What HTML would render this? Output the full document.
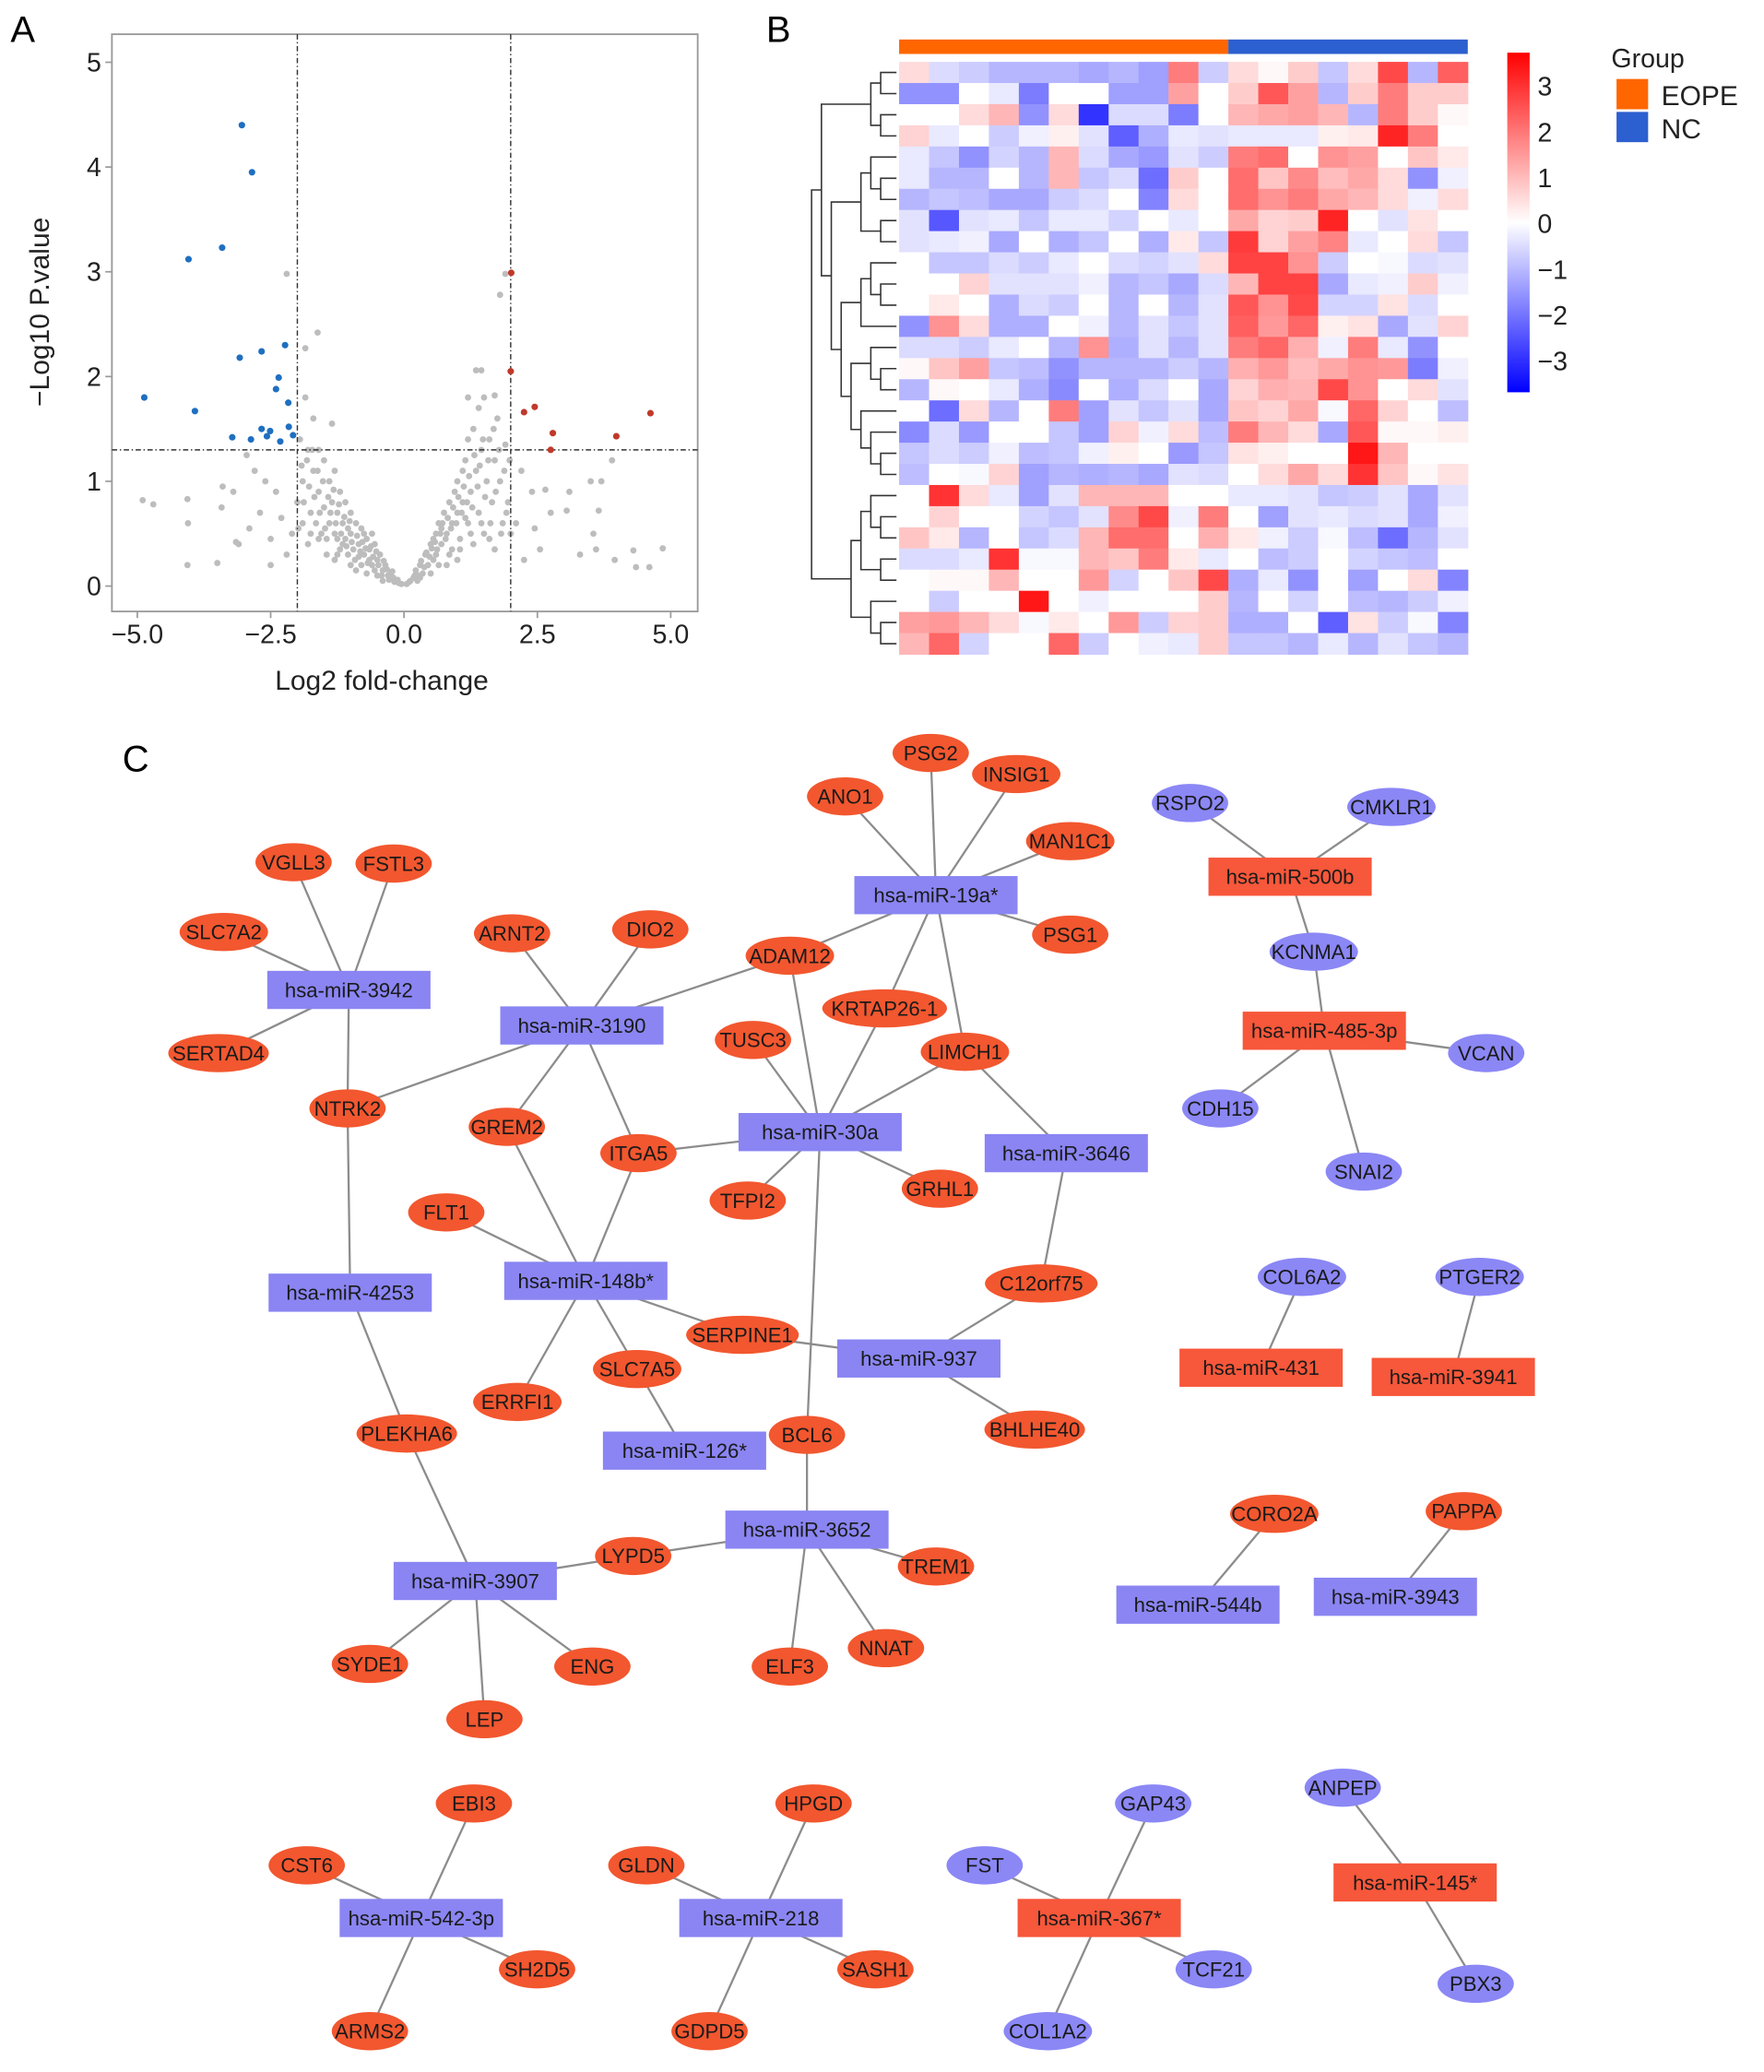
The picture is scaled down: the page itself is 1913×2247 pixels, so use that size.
<!DOCTYPE html>
<html><head><meta charset="utf-8"><style>
html,body{margin:0;padding:0;background:#fff}
svg{display:block;font-family:"Liberation Sans",Arial,sans-serif}
</style></head><body>
<svg id="fig" xmlns="http://www.w3.org/2000/svg" width="1913" height="2247" viewBox="0 0 1340 1574">
<rect x="0" y="0" width="1340" height="1574" fill="#fff"/>
<text x="8" y="32" font-size="28">A</text>
<text x="582" y="32" font-size="28">B</text>
<text x="93" y="586" font-size="28">C</text>
<g id="volcano"></g>
<g id="heat"></g>
<g id="net"></g>
</svg>
<script>
// ---------- Volcano data ----------
const xTicks = [-5, -2.5, 0, 2.5, 5];
const xTickLabels = ["\u22125.0", "\u22122.5", "0.0", "2.5", "5.0"];
const yTicks = [0, 1, 2, 3, 4, 5];
const fcCut = 2;
const pCut = 1.3;
const downPts = [[-3.04,4.40],[-2.85,3.95],[-3.41,3.23],[-4.04,3.12],[-2.67,2.24],[-2.23,2.30],[-3.08,2.18],[-2.35,1.99],[-2.40,1.88],[-4.87,1.80],[-2.17,1.75],[-3.92,1.67],[-2.67,1.50],[-2.51,1.48],[-2.16,1.52],[-2.57,1.43],[-2.08,1.44],[-3.22,1.42],[-2.87,1.40],[-2.32,1.38]];
const upPts = [[2.01,2.99],[2.0,2.05],[2.25,1.66],[2.45,1.71],[2.79,1.46],[2.75,1.30],[3.98,1.43],[4.62,1.65]];
const grayPts = [[-0.1,0.03],[-0.2,0.08],[-0.3,0.1],[-0.35,0.2],[-0.4,0.15],[-0.45,0.3],[-0.5,0.25],[-0.55,0.4],[-0.6,0.2],[-0.6,0.5],[-0.65,0.35],[-0.7,0.45],[-0.75,0.3],[-0.8,0.55],[-0.8,0.2],[-0.85,0.4],[-0.9,0.6],[-0.95,0.35],[-1.0,0.7],[-1.0,0.5],[-1.05,0.3],[-1.1,0.8],[-1.1,0.45],[-1.15,0.6],[-1.2,0.9],[-1.2,0.35],[-1.25,0.7],[-1.3,1.1],[-1.3,0.5],[-1.35,0.8],[-1.4,1.0],[-1.4,0.6],[-1.45,0.3],[-1.5,1.2],[-1.5,0.75],[-1.55,0.5],[-1.6,1.3],[-1.6,0.9],[-1.65,0.6],[-1.7,1.6],[-1.7,1.1],[-1.75,0.7],[-1.8,1.3],[-1.8,0.4],[-1.85,1.8],[-1.9,1.0],[-1.9,0.6],[-1.95,1.4],[-2.0,0.8],[-0.25,0.12],[-0.15,0.05],[-0.5,0.1],[-0.7,0.12],[-1.0,0.2],[-0.9,0.15],[-1.3,0.25],[-0.4,0.05],[-1.35,1.55],[-0.55,0.15],[-0.65,0.25],[-0.75,0.5],[-0.85,0.28],[-1.05,0.55],[-1.15,0.4],[-1.25,0.45],
[-2.1,0.5],[-2.2,0.3],[-2.3,0.65],[-2.4,0.9],[-2.5,0.45],[-2.6,1.0],[-2.7,0.7],[-2.8,1.1],[-2.9,0.55],[-2.95,1.25],[-3.1,0.4],[-3.2,0.9],[-2.2,2.98],[-1.62,2.42],[-1.85,2.27],[-2.5,0.2],
[0.1,0.04],[0.2,0.1],[0.25,0.05],[0.3,0.2],[0.35,0.12],[0.4,0.3],[0.45,0.2],[0.5,0.4],[0.55,0.25],[0.6,0.5],[0.6,0.3],[0.65,0.6],[0.7,0.4],[0.75,0.7],[0.8,0.5],[0.85,0.8],[0.85,0.3],[0.9,0.6],[0.95,0.9],[1.0,0.7],[1.0,1.0],[1.05,0.45],[1.1,1.1],[1.1,0.8],[1.15,1.2],[1.2,0.6],[1.2,1.4],[1.25,0.9],[1.3,1.5],[1.3,0.4],[1.35,1.1],[1.4,1.7],[1.4,0.7],[1.45,1.3],[1.5,1.8],[1.5,0.5],[1.55,1.0],[1.6,1.4],[1.65,0.8],[1.7,1.2],[1.7,0.35],[1.75,1.6],[1.8,1.0],[1.85,0.6],[1.9,1.35],[1.95,0.8],[2.0,0.5],[1.9,2.98],[1.8,2.78],[1.45,2.06],[1.35,2.06],[1.2,1.8],[1.7,1.82],[0.5,0.12],[0.8,0.2],[1.0,0.25],[0.3,0.08],[0.55,0.45],[0.7,0.55],[0.9,0.35],[1.15,0.65],[0.65,0.2],
[2.1,0.6],[2.25,0.25],[2.2,1.1],[2.4,0.9],[2.45,0.55],[2.55,0.35],[2.65,0.92],[2.75,0.7],[3.05,0.72],[3.1,0.9],[3.3,0.3],[3.5,1.0],[3.55,0.5],[3.6,0.35],[3.65,0.72],[3.7,1.0],[3.9,1.2],[3.95,0.25],[4.3,0.34],[4.35,0.18],[4.6,0.18],[4.85,0.36],
[-4.9,0.82],[-4.7,0.78],[-4.06,0.83],[-4.05,0.6],[-4.06,0.2],[-3.5,0.22],[-3.42,0.75],[-3.4,0.95],[-3.15,0.42]];
const grayPtsDense = [[-0.05,0.02],[-0.12,0.06],[-0.18,0.04],[-0.22,0.14],[-0.28,0.06],[-0.32,0.16],[-0.38,0.24],[-0.42,0.1],[-0.48,0.2],[-0.52,0.33],[-0.58,0.28],[-0.62,0.38],[-0.68,0.22],[-0.72,0.36],[-0.78,0.42],[-0.82,0.33],[-0.88,0.48],[-0.92,0.25],[-0.98,0.42],[-1.02,0.62],[-1.08,0.38],[-1.12,0.66],[-1.18,0.5],[-1.22,0.78],[-1.28,0.6],[-1.32,0.92],[-1.38,0.7],[-1.42,0.85],[-1.48,0.55],[-1.52,1.0],[-1.58,0.7],[-1.62,1.1],[-1.68,0.85],[-1.72,1.3],[-1.78,0.95],[-1.82,1.2],[-1.88,0.8],[-1.92,1.15],[-1.98,0.55],[-1.45,0.45],[-1.25,0.3],[-1.6,0.45],[-1.75,0.5],
[0.05,0.02],[0.12,0.05],[0.18,0.08],[0.22,0.15],[0.28,0.1],[0.32,0.24],[0.38,0.18],[0.42,0.32],[0.48,0.28],[0.52,0.36],[0.58,0.42],[0.62,0.35],[0.68,0.5],[0.72,0.6],[0.78,0.45],[0.82,0.65],[0.88,0.55],[0.92,0.75],[0.98,0.6],[1.02,0.85],[1.08,0.7],[1.12,0.95],[1.18,0.8],[1.22,1.05],[1.28,0.75],[1.32,1.25],[1.38,0.95],[1.42,1.15],[1.48,1.4],[1.52,0.85],[1.58,1.2],[1.62,0.6],[1.68,1.5],[1.72,0.9],[1.78,1.3],[1.82,0.5],[1.88,1.1],[1.92,0.7],[1.98,1.2],[1.25,0.5],[1.45,0.6],[1.6,0.45],[1.05,0.35]];

// ---------- Heatmap data ----------
const groupLabels = ["EOPE","NC"];
const groupSizes = [11, 8];
const colorTicks = [3,2,1,0,-1,-2,-3];
const colorTickLabels = ["3","2","1","0","\u22121","\u22122","\u22123"];
const heatValues = [
[0.5,-0.5,-0.7,-1,-1,-1,-1.2,-1,-1.3,1.8,-0.7,0.5,0.1,0.7,-0.8,0.5,2.5,-1,2.2],
[-1.5,-1.5,0,-0.3,-1.8,0,0,-1.3,-1.3,1.3,0,0.7,2.3,1.3,-1,0.7,1.8,0.7,0.7],
[0,0,0.5,1,-1.5,0.5,-2.8,-0.5,-0.5,-1.8,0,1,1.2,1.3,1,-1,1.8,0.7,0.1],
[0.6,-0.3,0,-0.7,-0.2,0.2,-0.4,-2.2,-1.1,-0.3,-0.4,-0.3,-0.3,-0.3,0.2,0.3,3,1.8,0],
[-0.3,-0.8,-1.5,-0.6,-1,1,-0.5,-1.2,-1.4,-0.4,-0.7,1.8,2,0,1.5,1.3,0,0.8,0.3],
[-0.3,-1,-1,0,-1,1,-0.8,-0.5,-2,0.7,0,2,0.8,1.6,0.9,1.2,0.5,-1.5,-0.2],
[-1,-0.8,-0.9,-1.2,-1.2,-0.7,-0.5,0,-1.7,0.5,0,2,1.5,1.8,1.2,1,0.5,-0.2,0.5],
[-0.4,-2.3,-0.4,-0.3,-0.8,-0.3,-0.3,-0.6,0,-0.3,0,1.2,0.6,0.7,3,0,-0.4,0.4,0],
[-0.4,-0.3,-0.2,-1.2,0,-1.1,-0.8,0,-1.1,0.3,-0.8,2.7,0.6,1.3,1.7,-0.3,0,0.5,-0.8],
[0,-0.8,-0.8,-0.5,-0.7,-0.3,0,-0.5,-0.6,-0.4,0.5,2.6,2.6,1.5,-0.7,0,-0.1,-0.5,-0.4],
[0,0,0.6,-0.4,-0.4,-0.4,-0.2,-1,-0.8,-1.2,-0.5,1,2.6,2.6,-1.2,-0.3,-0.2,0.7,-0.2],
[0,0.3,0,-1.1,-0.5,-0.7,0,-1,0,-1,-0.4,2.3,1.5,2.5,-0.6,-0.6,0.4,-0.5,0],
[-1.5,1.5,0.5,-1.1,-1.1,0,-0.2,-1,-0.4,-0.8,-0.4,2.2,1.4,2.1,0.2,0.4,-1.2,-0.4,0.6],
[-0.5,-0.5,-0.7,-0.3,0,-1,1.5,-1.1,-0.4,-1,-0.4,1.8,2.1,1.1,-0.2,1.8,-0.3,-1.5,0],
[0.1,0.8,1.3,-0.8,-0.9,-1.5,-1,-1,-1,-0.7,-1,1.1,1.4,0.9,1.2,1.5,1.4,-1.8,-0.2],
[-1,0.1,0,-0.3,-1.1,-1.6,0,-1.1,-0.5,0,-1.2,0.6,1.1,1,2.5,1.5,0,0.5,-0.4],
[0,-2,0.5,-1,0,1.8,-1.3,-0.4,-0.8,-0.4,-1.2,0.8,0.6,1.2,-0.1,2.1,0.6,0,-0.9],
[-1.6,-0.5,-1.4,0,0,-0.8,-1.3,0.6,-0.2,0.5,-0.9,1.8,1,0.5,-1.2,2.3,0.1,0.1,0.2],
[-0.8,-0.5,-0.7,-0.2,-0.9,-0.8,-0.2,0.2,0,-1.4,-0.8,0.4,0.2,0,0,3.2,1,0,0],
[-0.9,0,-0.1,0.6,-1.3,-1,-1.1,-1,-1.2,-0.4,-0.5,0,0.5,1.2,0.5,2.8,0.8,0.1,0.4],
[0,2.8,0.5,-0.3,-1.3,-0.4,1,1,1,0,0,-0.3,-0.3,-0.4,-0.8,-0.7,-0.4,-1.2,-0.4],
[0,0.6,0,0,-0.6,-0.8,-0.4,1.6,2.5,-0.2,1.8,0,-1.3,-0.4,-0.3,-0.5,-0.4,-1.2,-0.2],
[0.8,0.3,-1,0,-0.8,-0.5,1,2,2,0,1.1,0.3,-0.2,-0.7,-0.1,-0.9,-2,-1,-0.4],
[-0.5,-0.5,-0.3,2.8,-0.1,-0.1,1,0.8,1.8,0.3,-0.3,0,-0.9,-0.7,0,-0.6,-0.8,-0.9,0],
[0,0.1,0.1,1,0,0,1.4,-0.6,0,0.8,2.5,-1.1,-0.3,-1.5,0,-1.3,0,0.5,-1.7],
[0,-0.7,0,0,3.2,0,-0.2,0,0,0,0.7,-1,0,-0.6,0,-0.9,-1,-0.7,-0.2],
[1.3,1.4,1,0.5,-0.1,0.3,0,1.4,-0.7,0.6,0.7,-1.1,-1.1,0,-2.2,0.4,-0.7,-0.1,-1.7],
[1,2.1,-0.6,0,0,2.1,-0.7,0,-0.2,-0.3,0.7,-0.8,-0.8,-1,-0.3,-1,-0.4,-0.8,-1]];
const dendroTree = [[[[0,1],[2,3]],[[[4,[5,6]],[7,8]],[[[9,[10,11]],12],[[13,[14,15]],[16,[17,[18,19]]]]]]],[[[20,[21,22]],[23,24]],[25,[26,27]]]];

// ---------- Network data ----------
const netNodes = [
["PSG2","r",707,572],["INSIG1","r",772,588],["ANO1","r",642,605],["MAN1C1","r",813,639],["hsa-miR-19a*","B",711,680],["PSG1","r",813,710],
["ADAM12","r",600,726],["KRTAP26-1","r",672,766],["LIMCH1","r",733,799],["TUSC3","r",572,790],["hsa-miR-30a","B",623,860],["hsa-miR-3646","B",810,876],
["ITGA5","r",485,876],["GREM2","r",385,856],["TFPI2","r",568,912],["GRHL1","r",714,903],["hsa-miR-3190","B",442,779],["ARNT2","r",389,709],["DIO2","r",494,706],
["VGLL3","r",223,655],["FSTL3","r",299,656],["SLC7A2","r",170,708],["hsa-miR-3942","B",265,752],["SERTAD4","r",166,800],["NTRK2","r",264,842],
["FLT1","r",339,921],["hsa-miR-148b*","B",445,973],["C12orf75","r",791,975],["SERPINE1","r",564,1014],["hsa-miR-937","B",698,1032],["hsa-miR-4253","B",266,982],
["ERRFI1","r",393,1065],["SLC7A5","r",484,1040],["BCL6","r",613,1090],["BHLHE40","r",786,1086],["hsa-miR-126*","B",520,1102],["PLEKHA6","r",309,1089],
["hsa-miR-3652","B",613,1162],["LYPD5","r",481,1182],["TREM1","r",711,1190],["hsa-miR-3907","B",361,1201],["SYDE1","r",281,1264],["ENG","r",450,1266],
["LEP","r",368,1306],["ELF3","r",600,1266],["NNAT","r",673,1252],
["RSPO2","b",904,610],["CMKLR1","b",1057,613],["hsa-miR-500b","R",980,666],["KCNMA1","b",998,723],["hsa-miR-485-3p","R",1006,783],["VCAN","b",1129,800],
["CDH15","b",927,842],["SNAI2","b",1036,890],["COL6A2","b",989,970],["PTGER2","b",1124,970],["hsa-miR-431","R",958,1039],["hsa-miR-3941","R",1104,1046],
["CORO2A","r",968,1150],["PAPPA","r",1112,1148],["hsa-miR-544b","B",910,1219],["hsa-miR-3943","B",1060,1213],
["EBI3","r",360,1370],["CST6","r",233,1417],["hsa-miR-542-3p","B",320,1457],["SH2D5","r",408,1496],["ARMS2","r",281,1543],
["HPGD","r",618,1370],["GLDN","r",491,1417],["hsa-miR-218","B",578,1457],["SASH1","r",665,1496],["GDPD5","r",539,1543],
["GAP43","b",876,1370],["FST","b",748,1417],["hsa-miR-367*","R",835,1457],["TCF21","b",922,1496],["COL1A2","b",796,1543],
["ANPEP","b",1020,1358],["hsa-miR-145*","R",1075,1430],["PBX3","b",1121,1507]];
const netEdges = [
["hsa-miR-19a*","PSG2"],["hsa-miR-19a*","INSIG1"],["hsa-miR-19a*","ANO1"],["hsa-miR-19a*","MAN1C1"],["hsa-miR-19a*","PSG1"],["hsa-miR-19a*","ADAM12"],["hsa-miR-19a*","KRTAP26-1"],["hsa-miR-19a*","LIMCH1"],
["hsa-miR-30a","ADAM12"],["hsa-miR-30a","KRTAP26-1"],["hsa-miR-30a","LIMCH1"],["hsa-miR-30a","TUSC3"],["hsa-miR-30a","ITGA5"],["hsa-miR-30a","TFPI2"],["hsa-miR-30a","GRHL1"],["hsa-miR-30a","BCL6"],
["hsa-miR-3646","LIMCH1"],["hsa-miR-3646","C12orf75"],
["hsa-miR-3190","ARNT2"],["hsa-miR-3190","DIO2"],["hsa-miR-3190","ADAM12"],["hsa-miR-3190","NTRK2"],["hsa-miR-3190","GREM2"],["hsa-miR-3190","ITGA5"],
["hsa-miR-3942","VGLL3"],["hsa-miR-3942","FSTL3"],["hsa-miR-3942","SLC7A2"],["hsa-miR-3942","SERTAD4"],["hsa-miR-3942","NTRK2"],
["hsa-miR-4253","NTRK2"],["hsa-miR-4253","PLEKHA6"],
["hsa-miR-148b*","FLT1"],["hsa-miR-148b*","GREM2"],["hsa-miR-148b*","ITGA5"],["hsa-miR-148b*","SERPINE1"],["hsa-miR-148b*","ERRFI1"],["hsa-miR-148b*","SLC7A5"],
["hsa-miR-937","SERPINE1"],["hsa-miR-937","C12orf75"],["hsa-miR-937","BHLHE40"],["hsa-miR-126*","SLC7A5"],
["hsa-miR-3652","BCL6"],["hsa-miR-3652","LYPD5"],["hsa-miR-3652","TREM1"],["hsa-miR-3652","ELF3"],["hsa-miR-3652","NNAT"],
["hsa-miR-3907","PLEKHA6"],["hsa-miR-3907","LYPD5"],["hsa-miR-3907","SYDE1"],["hsa-miR-3907","ENG"],["hsa-miR-3907","LEP"],
["hsa-miR-500b","RSPO2"],["hsa-miR-500b","CMKLR1"],["hsa-miR-500b","KCNMA1"],["hsa-miR-485-3p","KCNMA1"],["hsa-miR-485-3p","VCAN"],["hsa-miR-485-3p","CDH15"],["hsa-miR-485-3p","SNAI2"],
["hsa-miR-431","COL6A2"],["hsa-miR-3941","PTGER2"],["hsa-miR-544b","CORO2A"],["hsa-miR-3943","PAPPA"],
["hsa-miR-542-3p","EBI3"],["hsa-miR-542-3p","CST6"],["hsa-miR-542-3p","SH2D5"],["hsa-miR-542-3p","ARMS2"],
["hsa-miR-218","HPGD"],["hsa-miR-218","GLDN"],["hsa-miR-218","SASH1"],["hsa-miR-218","GDPD5"],
["hsa-miR-367*","GAP43"],["hsa-miR-367*","FST"],["hsa-miR-367*","TCF21"],["hsa-miR-367*","COL1A2"],
["hsa-miR-145*","ANPEP"],["hsa-miR-145*","PBX3"]];

const NS = "http://www.w3.org/2000/svg";
function mk(tag, attrs, parent){ const e=document.createElementNS(NS,tag); for(const k in attrs) e.setAttribute(k,attrs[k]); parent.appendChild(e); return e; }
function slug(s){ return s.toLowerCase().replace(/[^a-z0-9]+/g,'-').replace(/^-|-$/g,''); }

// ---------- Volcano ----------
(function(){
  const g = document.getElementById('volcano');
  const L=85, R=530, T=26, B=464.5;
  const sx = v => 306.9 + v*40.52;
  const sy = v => 445.2 - v*79.58;
  const box = mk('rect',{x:L,y:T,width:R-L,height:B-T,fill:'none',stroke:'#9a9a9a','stroke-width':1.3},g);
  
  
  yTicks.forEach(t=>{
    const tk = mk('line',{x1:L-5,x2:L,y1:sy(t),y2:sy(t),stroke:'#9a9a9a','stroke-width':1.2},g);
    
    
    const tl = mk('text',{x:L-8,y:sy(t)+7,'font-size':20,'text-anchor':'end',fill:'#222'},g);
    tl.textContent = String(t);
    
    
  });
  xTicks.forEach((t,i)=>{
    const tk = mk('line',{x1:sx(t),x2:sx(t),y1:B,y2:B+5,stroke:'#9a9a9a','stroke-width':1.2},g);
    
    
    const tl = mk('text',{x:sx(t),y:B+24,'font-size':20,'text-anchor':'middle',fill:'#222'},g);
    tl.textContent = xTickLabels[i];
    
    
  });
  const xt = mk('text',{x:290,y:524,'font-size':21,'text-anchor':'middle',fill:'#222'},g);
  xt.textContent='Log2 fold-change';
  
  
  const yt = mk('text',{x:0,y:0,'font-size':21,'text-anchor':'middle',fill:'#222',transform:'translate(37,237) rotate(-90)'},g);
  yt.textContent='\u2212Log10 P.value';
  
  
  grayPts.concat(grayPtsDense).forEach(p=>{
    const c = mk('circle',{cx:sx(p[0]),cy:sy(p[1]),r:2.4,fill:'#bdbdbd'},g);
    
    
  });
  const dash = '4,2,1,2';
  [-fcCut, fcCut].forEach(v=>{
    const l = mk('line',{x1:sx(v),x2:sx(v),y1:T,y2:B,stroke:'#333','stroke-width':1,'stroke-dasharray':dash},g);
    
    
  });
  const h = mk('line',{x1:L,x2:R,y1:sy(pCut),y2:sy(pCut),stroke:'#333','stroke-width':1,'stroke-dasharray':dash},g);
  
  
  downPts.forEach(p=>{
    const c = mk('circle',{cx:sx(p[0]),cy:sy(p[1]),r:2.5,fill:'#1f6fc0'},g);
    
    
  });
  upPts.forEach(p=>{
    const c = mk('circle',{cx:sx(p[0]),cy:sy(p[1]),r:2.5,fill:'#c0392b'},g);
    
    
  });
})();

// ---------- Heatmap ----------
(function(){
  const g = document.getElementById('heat');
  const X0=683, X1=1115, Y0=47, Y1=497;
  const nCols = heatValues[0].length, nRows = heatValues.length;
  const cw=(X1-X0)/nCols, ch=(Y1-Y0)/nRows;
  const vmax=3.5;
  function col(v){ const t=Math.min(1,Math.abs(v)/vmax); const c=Math.round(255*(1-t)); return v>=0?`rgb(255,${c},${c})`:`rgb(${c},${c},255)`; }
  const gcols=['#ff6600','#2c5fcf'];
  let c0=0;
  groupSizes.forEach((n,i)=>{
    const r = mk('rect',{x:X0+c0*cw,y:30,width:n*cw,height:11,fill:gcols[i]},g);
    
    
    c0+=n;
  });
  heatValues.forEach((row,ri)=>row.forEach((v,ci)=>{
    const r = mk('rect',{x:X0+ci*cw,y:Y0+ri*ch,width:cw+0.4,height:ch+0.4,fill:col(v)},g);
    
    
  }));
  const step=7.5, right=681;
  function depth(n){ return Array.isArray(n)?1+Math.max(depth(n[0]),depth(n[1])):0; }
  function draw(n){
    if(!Array.isArray(n)) return {y:Y0+(n+0.5)*ch, x:right};
    const a=draw(n[0]), b=draw(n[1]);
    const x=right-12-depth(n)*step+step;
    const p = mk('path',{d:`M${a.x},${a.y}H${x}V${b.y}H${b.x}`,fill:'none',stroke:'#333','stroke-width':1.1},g);
    
    
    return {x:x,y:(a.y+b.y)/2};
  }
  draw(dendroTree);
  const defs = mk('defs',{},g);
  const lg = mk('linearGradient',{id:'cbg',x1:0,y1:0,x2:0,y2:1},defs);
  mk('stop',{offset:'0%','stop-color':'#ff0000'},lg);
  mk('stop',{offset:'50%','stop-color':'#ffffff'},lg);
  mk('stop',{offset:'100%','stop-color':'#0000ff'},lg);
  const cbTop=40, cbBot=298, cbX=1145;
  const cb = mk('rect',{x:cbX,y:cbTop,width:17,height:cbBot-cbTop,fill:'url(#cbg)'},g);
  
  
  const cy = v => 170 - v*34.8;
  colorTicks.forEach((t,i)=>{
    const tl = mk('text',{x:1168,y:cy(t)+7,'font-size':20,fill:'#222'},g);
    tl.textContent = colorTickLabels[i];
    
    
  });
  const lt = mk('text',{x:1224,y:51,'font-size':20,fill:'#222'},g);
  lt.textContent='Group';
  
  
  groupLabels.forEach((lab,i)=>{
    const r = mk('rect',{x:1228,y:60+i*25,width:24,height:23,fill:gcols[i]},g);
    
    
    const t = mk('text',{x:1262,y:80+i*25,'font-size':21,fill:'#222'},g);
    t.textContent=lab;
    
    
  });
})();

// ---------- Network ----------
(function(){
  const g = document.getElementById('net');
  const pos = {};
  netNodes.forEach(n=>pos[n[0]]=n);
  netEdges.forEach(e=>{
    const a=pos[e[0]], b=pos[e[1]];
    const l = mk('line',{x1:a[2],y1:a[3],x2:b[2],y2:b[3],stroke:'#8c8c8c','stroke-width':1.6},g);
    
    
  });
  const fills = {r:'#f2572f', b:'#8b87f5', R:'#f7573a', B:'#8a85f2'};
  netNodes.forEach(n=>{
    const [lab,type,x,y]=n;
    let shape;
    if(type==='R'||type==='B'){
      shape = mk('rect',{x:x-62,y:y-14.5,width:124,height:29,fill:fills[type]},g);
    } else {
      const rx = Math.max(29, lab.length*4.6+6);
      shape = mk('ellipse',{cx:x,cy:y,rx:rx,ry:14.5,fill:fills[type]},g);
    }
    
    
    const t = mk('text',{x:x,y:y+5.5,'font-size':15.5,'text-anchor':'middle',fill:'#1a1a1a'},g);
    t.textContent = lab;
    
    
  });
})();
</script>
</body></html>
